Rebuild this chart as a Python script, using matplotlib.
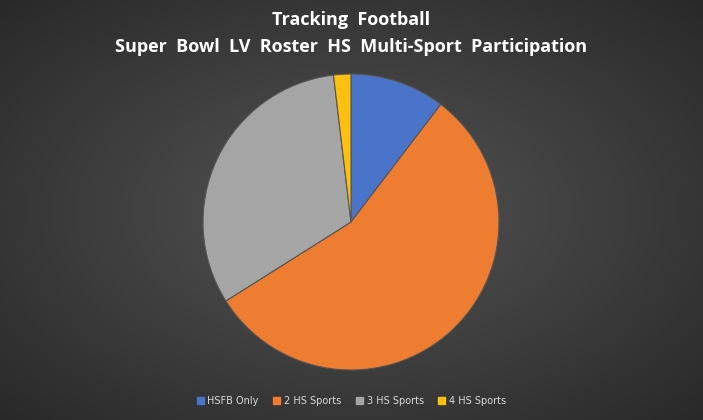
import matplotlib
matplotlib.use('Agg')
import matplotlib.pyplot as plt
import matplotlib.patches as mpatches
import numpy as np

labels = ['HSFB Only', '2 HS Sports', '3 HS Sports', '4 HS Sports']
counts = [11, 59, 34, 2]
colors = ['#4a74c9', '#ee7d31', '#a5a5a5', '#fdc010']

W, H = 703, 420
fig = plt.figure(figsize=(W / 100, H / 100), dpi=100)

# radial gradient background
bg = fig.add_axes([0, 0, 1, 1])
yy, xx = np.mgrid[0:H, 0:W]
r = np.sqrt(((xx - W / 2) / (W / 2)) ** 2 + ((yy - H / 2) / (H / 2)) ** 2) / np.sqrt(2)
shade = 0.33 - 0.17 * np.clip(r, 0, 1)
bg.imshow(np.dstack([shade] * 3), aspect='auto', extent=[0, 1, 0, 1])
bg.set_axis_off()

cx, cy, rad = 351, H - 222, 148
ax = fig.add_axes([(cx - rad) / W, (cy - rad) / H, 2 * rad / W, 2 * rad / H])
ax.pie(counts, colors=colors, startangle=90, counterclock=False,
       wedgeprops=dict(linewidth=0.8, edgecolor='#555555'))
ax.set_xlim(-1, 1)
ax.set_ylim(-1, 1)
ax.set_aspect('equal')

fig.text(0.5, 0.952, 'Tracking  Football', ha='center', va='center',
         color='white', fontsize=13, fontweight='bold', family='Open Sans')
fig.text(0.5, 0.888, 'Super  Bowl  LV  Roster  HS  Multi-Sport  Participation',
         ha='center', va='center', color='white', fontsize=13,
         fontweight='bold', family='Open Sans')

handles = [mpatches.Patch(color=c, label=l) for c, l in zip(colors, labels)]
leg = fig.legend(handles=handles, loc='center', bbox_to_anchor=(0.5, 0.045),
                 ncol=4, frameon=False, fontsize=7, handlelength=0.7,
                 handleheight=0.7, handletextpad=0.4, columnspacing=1.5)
for t in leg.get_texts():
    t.set_color('#d9d9d9')

fig.savefig('out.png', dpi=100)
